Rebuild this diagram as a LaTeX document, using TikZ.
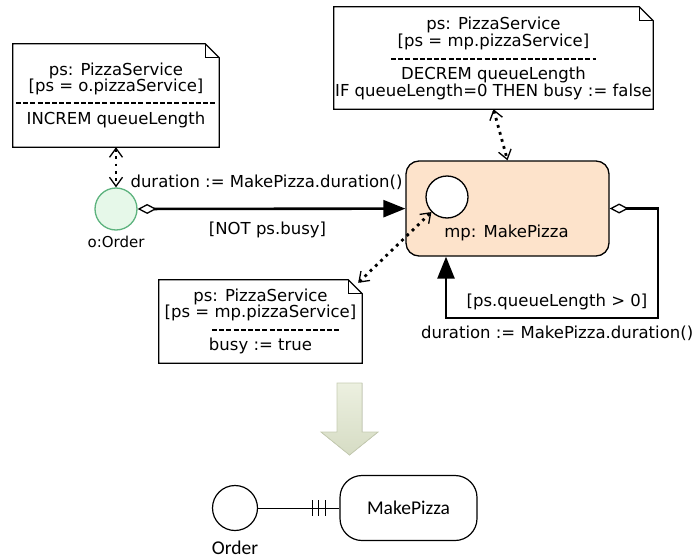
\documentclass[tikz,border=0pt]{standalone}
\usepackage{fontspec}
\setmainfont{DejaVu Sans}
\newfontfamily\calfont{Carlito}
\usetikzlibrary{arrows.meta}

% note outline with folded corner
\newcommand\drawnote[1]{%
  \filldraw[notefr] (#1.south west) -- (#1.north west) -- ([xshift=-14pt]#1.north east)
    -- ([yshift=-14pt]#1.north east) -- (#1.south east) -- cycle;
  \draw[notefr,fill=none] ([xshift=-14pt]#1.north east) |- ([yshift=-14pt]#1.north east);
}

\begin{document}
\begin{tikzpicture}[x=1pt,y=-1pt,font=\fontsize{16.5}{16.5}\selectfont,
  lbl/.style={inner sep=0pt,align=center},
  notebox/.style={inner sep=0pt},
  notefr/.style={line width=1.2pt,fill=white},
  sep/.style={dash pattern=on 5pt off 2.2pt,line width=1.3pt},
  dotlink/.style={line width=2.8pt,dash pattern=on 2.8pt off 4.5pt,
    {Straight Barb[length=9pt,width=13pt,line width=1.3pt]}-{Straight Barb[length=9pt,width=13pt,line width=1.3pt]}},
  trans/.style={line width=2.6pt,
    {Diamond[open,length=19pt,width=10pt,line width=1.3pt]}-{Triangle[length=22pt,width=17pt]}},
  cal/.style={font=\calfont\fontsize{19.5}{19.5}\selectfont}]
  \definecolor{ordfill}{HTML}{E6F8E9}
  \definecolor{ordline}{HTML}{5DB37E}
  \definecolor{mpfill}{HTML}{FDE3CB}
  \definecolor{bigtop}{HTML}{ECF0E0}
  \definecolor{bigbot}{HTML}{D6DCC4}
  \definecolor{bigedge}{HTML}{C6CCB2}
  \path[use as bounding box] (0,0) rectangle (692,559);

  % notes
  \node[notebox,minimum width=206,minimum height=103] (n1) at (116,95.5) {};
  \node[notebox,minimum width=319,minimum height=102] (n2) at (493.5,58) {};
  \node[notebox,minimum width=203,minimum height=83] (n3) at (260.5,321.5) {};
  \drawnote{n1}
  \drawnote{n2}
  \drawnote{n3}
  \node[lbl] (n1t) at (116,79) {ps: PizzaService\\{}[ps = o.pizzaService]};
  \node[lbl] (n1b) at (116,119.5) {INCREM queueLength};
  \draw[sep] (16,103) -- (216,103);
  \node[lbl] (n2t) at (493.5,33.5) {ps: PizzaService\\{}[ps = mp.pizzaService]};
  \node[lbl] (n2b) at (493.5,83.5) {DECREM queueLength\\IF queueLength=0 THEN busy := false};
  \draw[sep] (391,59) -- (596,59);
  \node[lbl] (n3t) at (260.5,305) {ps: PizzaService\\{}[ps = mp.pizzaService]};
  \node[lbl] (n3b) at (260.5,346) {busy := true};
  \draw[sep] (212,330) -- (340,330);

  % state machine
  \node[circle,minimum size=42,draw=ordline,fill=ordfill,line width=1.3pt] (o) at (116,209) {};
  \node[lbl,font=\fontsize{15}{15}\selectfont] (olbl) at (116,242) {o:Order};
  \node[draw,rounded corners=13pt,fill=mpfill,minimum width=203,minimum height=95,
        line width=1.3pt] (mp) at (507.5,208.5) {};
  \node[circle,draw,fill=white,minimum size=42,line width=1.3pt] (mpin) at (447,197) {};
  \node[lbl] (mplbl) at (506.5,233) {mp: MakePizza};

  \draw[trans] (o) -- (mp);
  \node[lbl] (dur1) at (266.5,182) {duration := MakePizza.duration()};
  \node[lbl] (g1) at (267.5,230) {[NOT ps.busy]};

  \coordinate (lp1) at (658,318);
  \coordinate (lp2) at (446,318);
  \draw[trans] (mp.east) -| (lp1) -- (lp2) -- (lp2 |- mp.south);
  \node[lbl] (g2) at (557,302) {[ps.queueLength > 0]};
  \node[lbl,anchor=west] (dur2) at (421,333) {duration := MakePizza.duration()};

  \draw[dotlink] (n1) -- (o);
  \draw[dotlink] (n2.south) -- (mp.north);
  \draw[dotlink] ([xshift=-4pt,yshift=-3pt]n3.north east) -- (mpin);

  % big arrow
  \filldraw[top color=bigtop,bottom color=bigbot,draw=bigedge,line width=0.8pt]
    (337,383) -- (362,383) -- (362,432) -- (378,432) -- (349.5,455)
    -- (321,432) -- (337,432) -- cycle;

  % result
  \node[circle,draw,minimum size=45,line width=1.2pt] (ord) at (235,508) {};
  \node[lbl,cal] (ordlbl) at (235,548) {Order};
  \node[draw,rounded corners=22pt,minimum width=137,minimum height=65,
        line width=1.2pt,cal] (mk) at (408.5,508) {MakePizza};
  \draw[line width=1pt] (ord.east) -- (mk.west);
  \foreach \d in {14,20.5,27}
    \draw[line width=1pt] ([xshift=-\d pt,yshift=8pt]mk.west) -- ++(0,16);
\end{tikzpicture}
\end{document}
